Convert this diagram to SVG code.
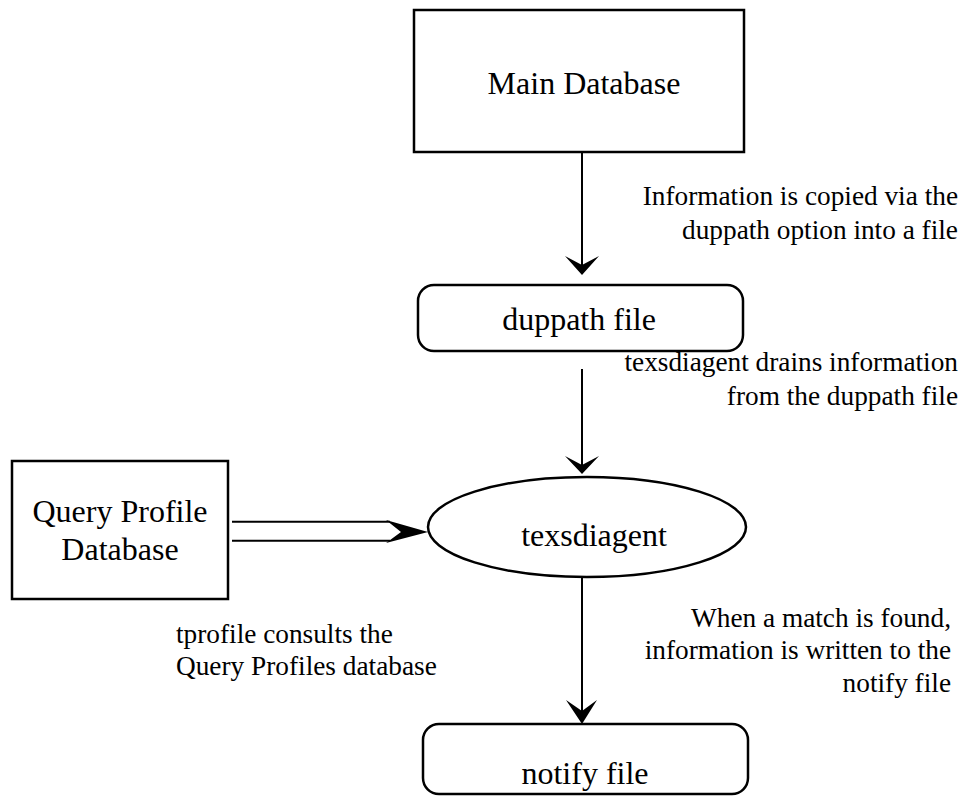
<svg xmlns="http://www.w3.org/2000/svg" width="963" height="797" viewBox="0 0 963 797">
<style>
.box{fill:#fff;stroke:#000;stroke-width:2.5}
.ln{fill:none;stroke:#000;stroke-width:2}
.head{fill:#000;stroke:none}
.nt{font-size:32px;fill:#000;text-anchor:middle}
.lb{font-size:27.3px;fill:#000}
.r{text-anchor:end}
</style>
<rect width="963" height="797" fill="#fff"/>
<g font-family="'Liberation Serif', 'Times New Roman', 'DejaVu Serif', serif">
<g id="main-database">
<rect class="box" x="414" y="10" width="330" height="142"/>
<text class="nt" x="584" y="94">Main Database</text>
</g>
<g id="duppath-file">
<rect class="box" x="418" y="285" width="325" height="66" rx="16"/>
<text class="nt" x="579" y="330" font-size="31">duppath file</text>
</g>
<g id="texsdiagent">
<ellipse class="box" cx="587" cy="527" rx="159" ry="50"/>
<text class="nt" x="594" y="546">texsdiagent</text>
</g>
<g id="query-profile-database">
<rect class="box" x="12" y="461" width="216" height="138"/>
<text class="nt" x="120" y="522">Query Profile</text>
<text class="nt" x="120" y="560">Database</text>
</g>
<g id="notify-file">
<rect class="box" x="423" y="724" width="325" height="70" rx="16"/>
<text class="nt" x="585" y="784">notify file</text>
</g>
<g id="connectors">
<line class="ln" x1="582" y1="152" x2="582" y2="268"/>
<path class="head" d="M582,275 L565,256 L582,265 L599,256 Z"/>
<line class="ln" x1="582" y1="369" x2="582" y2="466"/>
<path class="head" d="M582,474 L565,456 L582,465 L599,456 Z"/>
<line class="ln" x1="582" y1="577" x2="582" y2="716"/>
<path class="head" d="M582,724 L566,700 L582,711 L597,700 Z"/>
<line class="ln" x1="232" y1="521.7" x2="390" y2="521.7"/>
<line class="ln" x1="232" y1="540.7" x2="390" y2="540.7"/>
<path class="head" d="M428,532 L386,520 L401,532 L386,543 Z"/>
</g>
<g id="labels">
<text class="lb r" x="958" y="205">Information is copied via the</text>
<text class="lb r" x="958" y="239">duppath option into a file</text>
<text class="lb r" x="958" y="371">texsdiagent drains information</text>
<text class="lb r" x="958" y="405">from the duppath file</text>
<text class="lb" x="176" y="643">tprofile consults the</text>
<text class="lb" x="176" y="675">Query Profiles database</text>
<text class="lb r" x="951" y="627">When a match is found,</text>
<text class="lb r" x="951" y="659">information is written to the</text>
<text class="lb r" x="951" y="692">notify file</text>
</g>
</g>
</svg>
